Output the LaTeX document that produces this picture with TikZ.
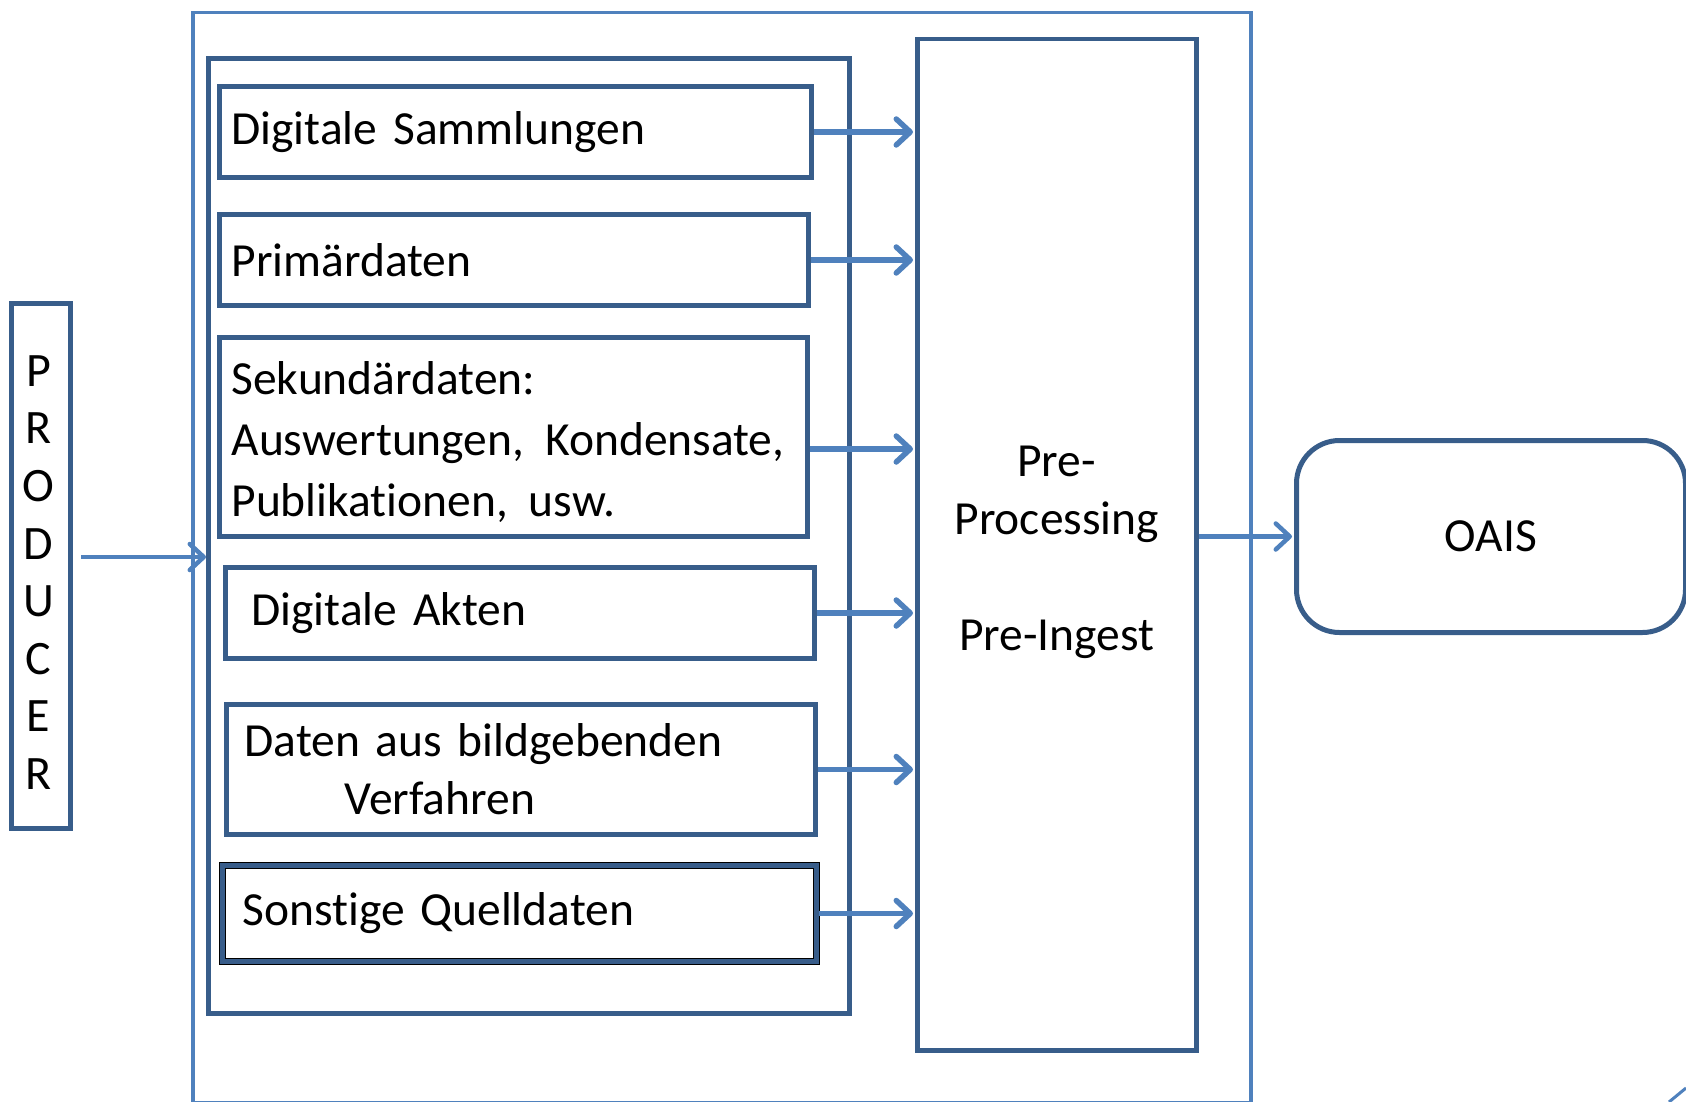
\documentclass[tikz,border=0pt]{standalone}
\usepackage{fontspec}
\setmainfont{Carlito}[RawFeature=-liga]
\usetikzlibrary{arrows.meta}
\definecolor{boxblue}{HTML}{385D8A}
\definecolor{linkblue}{HTML}{4F81BD}
\newcommand{\labelfont}{\fontsize{47.5}{58}\selectfont}
\begin{document}
\begin{tikzpicture}[x=1pt,y=-1pt,
  every node/.style={font=\labelfont, text=black},
  frame/.style={draw=boxblue, rectangle, inner sep=0pt, anchor=north west},
  srcbox/.style={frame, line width=5pt, align=left, inner ysep=0pt},
  flow/.style={draw=linkblue, line width=5.5pt,
    -{Straight Barb[length=14pt,width=26pt,line cap=round,line join=round]}},
]
\useasboundingbox (0,0) rectangle (1686,1102);

% outer frame and container
\node[frame, draw=linkblue, line width=3.5pt, minimum width=1058pt, minimum height=1090pt] (outer) at (191,11) {};
\node[frame, line width=5pt, minimum width=641pt, minimum height=955pt] (cont) at (206,56) {};

% producer
\node[frame, line width=5pt, minimum width=59pt, minimum height=525pt] (producer) at (9,301) {};
\node[align=center, inner sep=0pt, font=\fontsize{48}{57.6}\selectfont] (prodlabel) at (38.5,572.5)
  {P\\R\\O\\D\\U\\C\\E\\R};

% data sources
\node[srcbox, inner xsep=12pt, text width=568pt, minimum height=91pt] (ds) at (217,84) {Digitale Sammlungen};
\node[srcbox, inner xsep=12pt, text width=565pt, minimum height=91pt] (pd) at (217,212) {Primärdaten};
\node[srcbox, inner xsep=12pt, text width=564pt, minimum height=199pt, font=\fontsize{47.5}{61}\selectfont] (sk) at (217,335)
  {\rule{0pt}{43pt}Sekundärdaten:\\Auswertungen,\hspace{21pt}Kondensate,\\Publikationen,\hspace{21pt}usw.};
\node[srcbox, inner xsep=26pt, text width=537pt, minimum height=91pt] (da) at (223,565) {Digitale Akten};
\node[srcbox, inner xsep=18pt, text width=553pt, minimum height=130pt] (dbv) at (224,702)
  {Daten aus bildgebenden\\\hspace*{100pt}Verfahren};
\node[srcbox, inner xsep=20pt, text width=554pt, minimum height=96pt,
  preaction={draw=black, line width=7pt}] (sq) at (220,863) {Sonstige Quelldaten};

% pre-processing and archive
\node[frame, line width=4.5pt, minimum width=279pt, minimum height=1011pt, align=center] (pp) at (915,37)
  {\rule{0pt}{45pt}Pre-\\Processing\\[58pt]Pre-Ingest};
\node[frame, line width=5pt, rounded corners=43pt, minimum width=389pt, minimum height=192pt] (oais) at (1294,438) {OAIS};

% connectors
\coordinate (pstart) at (81,557);
\draw[flow, line width=4.5pt] (pstart) -- (pstart -| cont.west);
\foreach \b/\dy in {ds/0, pd/0, sk/-12, da/0, dbv/0, sq/0}
  \draw[flow, shorten >=2pt] ([yshift=\dy pt]\b.east) -- ([yshift=\dy pt]\b.east -| pp.west);
\draw[flow, line width=4.5pt, shorten >=2pt] (pp.east |- oais.west) -- (oais.west);

% corner mark
\draw[linkblue, line width=3pt] (1669,1102) -- (1686,1088);
\end{tikzpicture}
\end{document}
